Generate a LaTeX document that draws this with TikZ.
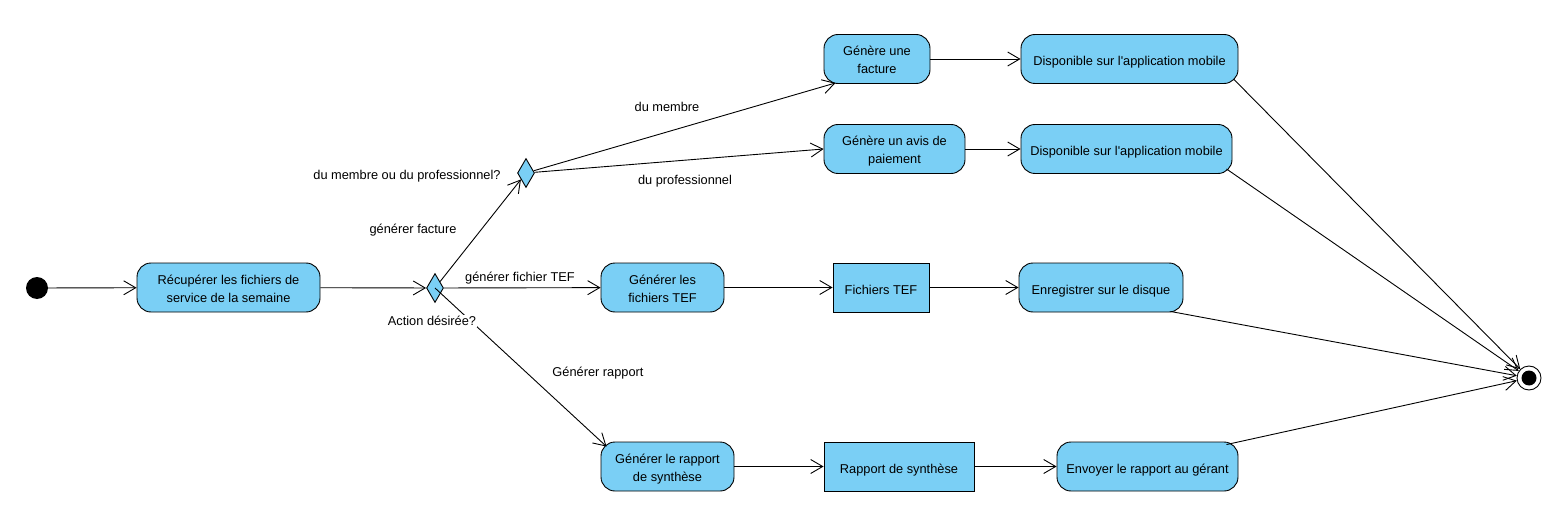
\documentclass[tikz,border=0pt]{standalone}
\usepackage{fontspec}
\setmainfont{Liberation Sans}
\usetikzlibrary{shapes.geometric,arrows.meta,calc}
\definecolor{ablue}{RGB}{122,207,245}
\begin{document}
\begin{tikzpicture}[x=1pt,y=-1pt,
  every node/.style={font=\fontsize{12.8}{17.5}\selectfont},
  boxtext/.style={text height=16.5pt, text depth=3.5pt},
  twoline/.style={text height=32.5pt, text depth=3.5pt},
  act/.style={draw, line width=0.9pt, fill=ablue, rounded corners=14pt, minimum height=49pt, align=center, inner sep=0pt, boxtext},
  obj/.style={draw, line width=0.9pt, fill=ablue, minimum height=49pt, align=center, inner sep=0pt, boxtext},
  dec/.style={draw, line width=0.9pt, fill=ablue, diamond, inner sep=0pt, minimum width=17pt, minimum height=29pt},
  flow/.style={line width=0.9pt, -{Straight Barb[length=12pt,width=14pt,line width=0.9pt]}},
  lbl/.style={inner sep=1pt}
]
\useasboundingbox (0,0) rectangle (1552,505);
% nodes
\node[circle, fill=black, minimum size=22pt, inner sep=0pt] (init) at (37,288) {};
\node[act, twoline, minimum width=183pt] (A1) at (228.5,287.5) {Récupérer les fichiers de\\service de la semaine};
\node[dec] (D1) at (435,288) {};
\node[dec] (D2) at (526,173) {};
\node[act, twoline, minimum width=106pt] (F) at (877,59) {Génère une\\facture};
\node[act, twoline, minimum width=141pt] (P) at (894.5,149) {Génère un avis de\\paiement};
\node[act, minimum width=217pt] (M1) at (1129.5,59) {Disponible sur l\textquotesingle application mobile};
\node[act, minimum width=211pt] (M2) at (1126.5,149) {Disponible sur l\textquotesingle application mobile};
\node[act, twoline, minimum width=123pt] (T1) at (662.5,287.5) {Générer les\\fichiers TEF};
\node[obj, minimum width=96pt] (T2) at (881,287.5) {Fichiers TEF};
\node[act, minimum width=164pt] (T3) at (1101,287.5) {Enregistrer sur le disque};
\node[act, twoline, minimum width=133pt] (R1) at (667.5,466.5) {Générer le rapport\\de synthèse};
\node[obj, minimum width=150pt] (R2) at (899,466.5) {Rapport de synthèse};
\node[act, minimum width=181pt] (R3) at (1147.5,466.5) {Envoyer le rapport au gérant};
\node[circle, draw, line width=0.9pt, fill=white, minimum size=24pt, inner sep=0pt] (fin) at (1529,378) {};
\node[circle, fill=black, minimum size=15pt, inner sep=0pt] (finin) at (fin.center) {};
% edges
\draw[flow] (init) -- (A1);
\draw[flow] (A1) -- (D1);
\draw[flow] (D1) -- (D2);
\draw[flow] (D1) -- (T1);
\draw[flow] (D1.center) -- ($(R1.north west)+(6,5)$);
\draw[flow] (D2) -- ($(F.south west)+(12,-1)$);
\draw[flow] (D2) -- (P.west);
\draw[flow] (F) -- (M1);
\draw[flow] (P) -- (M2);
\draw[flow] (T1) -- (T2);
\draw[flow] (T2) -- (T3);
\draw[flow] (R1) -- (R2);
\draw[flow] (R2) -- (R3);
\draw[flow] ($(M1.south east)+(-5,-5)$) -- (fin);
\draw[flow] ($(M2.south east)+(-6,-5)$) -- (fin);
\draw[flow] ($(T3.south east)+(-13,-1)$) -- (fin);
\draw[flow] ($(R3.north east)+(-12,3)$) -- (fin);
% labels
\node[lbl] (l1) at (407,176) {du membre ou du professionnel?};
\node[lbl] (l2) at (413,230) {générer facture};
\node[lbl] (l3) at (520,278) {générer fichier TEF};
\node[lbl, fill=white] (l4) at (432,321) {Action désirée?};
\node[lbl] (l5) at (598,373) {Générer rapport};
\node[lbl] (l6) at (667,107) {du membre};
\node[lbl] (l7) at (685,181) {du professionnel};
\end{tikzpicture}
\end{document}
